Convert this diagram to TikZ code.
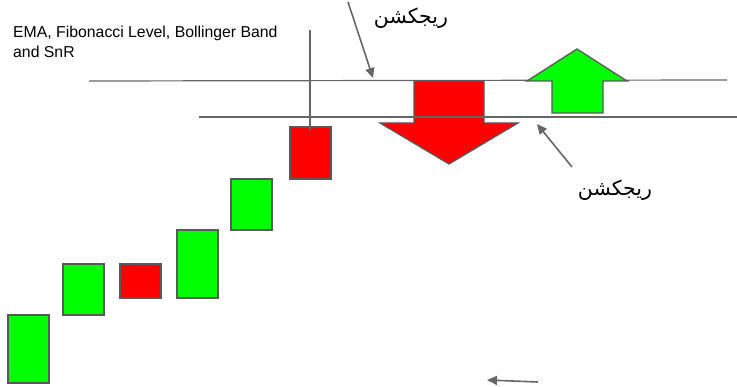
\documentclass[tikz,border=0pt]{standalone}
\usepackage{fontspec}
\setmainfont{Liberation Sans}
\newfontfamily\arabicfont[Script=Arabic]{DejaVu Sans}
\TeXXeTstate=1
\usetikzlibrary{arrows.meta}
\definecolor{bord}{HTML}{595959}
\definecolor{lin}{HTML}{666666}
\definecolor{gr}{HTML}{00FF00}
\definecolor{rd}{HTML}{FF0000}
\tikzset{
  candle/.style={draw=bord, line width=1.5pt},
  level/.style={draw=lin, line width=1.2pt},
  pointer/.style={draw=lin, line width=1.6pt, -{Triangle[length=10pt,width=9pt]}},
  bigarrow/.style={draw=bord, line width=1.3pt},
  artext/.style={font=\arabicfont\fontsize{20.5}{24}\selectfont, inner sep=0pt},
}
\begin{document}
\begin{tikzpicture}[x=1pt,y=-1pt]
\useasboundingbox (0,0) rectangle (737,387);
% candles
\path[candle, fill=gr] (8,315) rectangle (49,383) coordinate (c1);
\path[candle, fill=gr] (63,264) rectangle (104,315) coordinate (c2);
\path[candle, fill=rd] (120,264) rectangle (161,298) coordinate (c3);
\path[candle, fill=gr] (177,230) rectangle (218,298) coordinate (c4);
\path[candle, fill=gr] (231,179) rectangle (272,230) coordinate (c5);
\path[candle, fill=rd] (290,127) rectangle (331,179) coordinate (c6);
% level lines
\coordinate (l1a) at (89,81); \coordinate (l1b) at (727,80);
\coordinate (l2a) at (199,117); \coordinate (l2b) at (737,117);
\draw[level] (l1a) -- (l1b);
% red down arrow
\path[bigarrow, fill=rd] (414,81) -- (484,81) -- (484,123) -- (518,123) -- (449,164) -- (380,123) -- (414,123) -- cycle;
\draw[level] (l2a) -- (l2b);
% green up arrow
\path[bigarrow, fill=gr] (552,113) -- (552,81) -- (527,81) -- (577,49) -- (627,81) -- (603,81) -- (603,113) -- cycle;
% vertical line
\coordinate (vtop) at (310,30); \coordinate (vbot) at (310,130);
\draw[level] (vtop) -- (vbot);
% texts
\node[anchor=base west, align=left, inner sep=0pt, font=\fontsize{15.8}{20}\selectfont] (lbl) at (13,58) {EMA, Fibonacci Level, Bollinger Band\\and SnR};
\node[artext] (r1) at (411,18) {\beginR ريجكشن\endR};
\node[artext] (r2) at (615,190) {\beginR ريجكشن\endR};
% pointers
\coordinate (p1s) at (348,2); \coordinate (p1e) at (373,78);
\draw[pointer] (p1s) -- (p1e);
\coordinate (p2s) at (572,167); \coordinate (p2e) at (537,124);
\draw[pointer] (p2s) -- (p2e);
\coordinate (p3s) at (538,382); \coordinate (p3e) at (487,380);
\draw[pointer] (p3s) -- (p3e);
\end{tikzpicture}
\end{document}
